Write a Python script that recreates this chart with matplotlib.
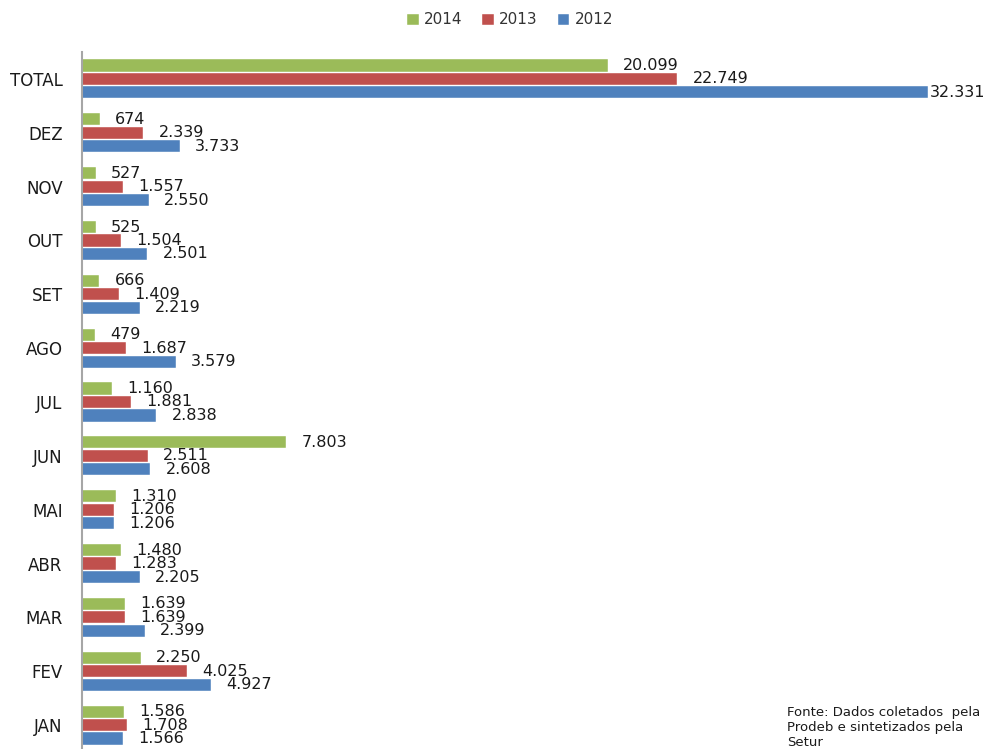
import matplotlib
matplotlib.use("Agg")
import matplotlib.pyplot as plt
import numpy as np

categories = ["JAN", "FEV", "MAR", "ABR", "MAI", "JUN", "JUL", "AGO", "SET", "OUT", "NOV", "DEZ", "TOTAL"]
v2014 = [1586, 2250, 1639, 1480, 1310, 7803, 1160, 479, 666, 525, 527, 674, 20099]
v2013 = [1708, 4025, 1639, 1283, 1206, 2511, 1881, 1687, 1409, 1504, 1557, 2339, 22749]
v2012 = [1566, 4927, 2399, 2205, 1206, 2608, 2838, 3579, 2219, 2501, 2550, 3733, 32331]
series_names = ["2014", "2013", "2012"]
colors = ["#9BBB59", "#C0504D", "#4F81BD"]
source_text = "Fonte: Dados coletados  pela\nProdeb e sintetizados pela\nSetur"

plt.rcParams['font.family'] = ['DejaVu Sans']

W, H = 1004, 749
fig = plt.figure(figsize=(W / 100, H / 100), dpi=100)
ax_left, ax_right = 82, 1000
ax_top, ax_bot = 52, 752
ax = fig.add_axes([ax_left / W, 1 - ax_bot / H, (ax_right - ax_left) / W, (ax_bot - ax_top) / H])

y = np.arange(len(categories))
offsets = [0.25, 0.0, -0.25]
bar_h = 0.225
px_per_unit = 846 / 32331
xmax = (ax_right - ax_left) / px_per_unit

for vals, off, col, name in zip([v2014, v2013, v2012], offsets, colors, series_names):
    ax.barh(y + off, vals, height=bar_h, color=col, label=name, edgecolor="white", linewidth=0.3)
    for yi, v in zip(y + off, vals):
        label = f"{v:,}".replace(",", ".")
        end_px = v * px_per_unit
        off_pts = 11 if end_px + 15 + 72 < (ax_right - ax_left) else 1.5
        ax.annotate(label, xy=(v, yi), xytext=(off_pts, 0), textcoords="offset points",
                    va="center", ha="left", fontsize=11.5, color="#1a1a1a")

ax.set_xlim(0, xmax)
ax.set_ylim(-0.5, len(categories) - 0.5)
ax.set_yticks(y)
ax.set_yticklabels(categories, fontsize=12, color="#1a1a1a")
ax.tick_params(axis="y", length=0, pad=14)
ax.set_xticks([])
for s in ["top", "right", "bottom"]:
    ax.spines[s].set_visible(False)
ax.spines["left"].set_color("#A6A6A6")
ax.spines["left"].set_linewidth(1.5)

leg = fig.legend(loc="center", bbox_to_anchor=(510 / W, 1 - 20 / H), ncol=3, frameon=False,
                 fontsize=11, handlelength=0.75, handleheight=0.75, handletextpad=0.35, columnspacing=1.3)
for t in leg.get_texts():
    t.set_color("#333333")

fig.text(787 / W, 1 - 706 / H, source_text, fontsize=9.5, va="top", ha="left", color="#1a1a1a",
         linespacing=1.2)

fig.savefig("out.png", dpi=100)
